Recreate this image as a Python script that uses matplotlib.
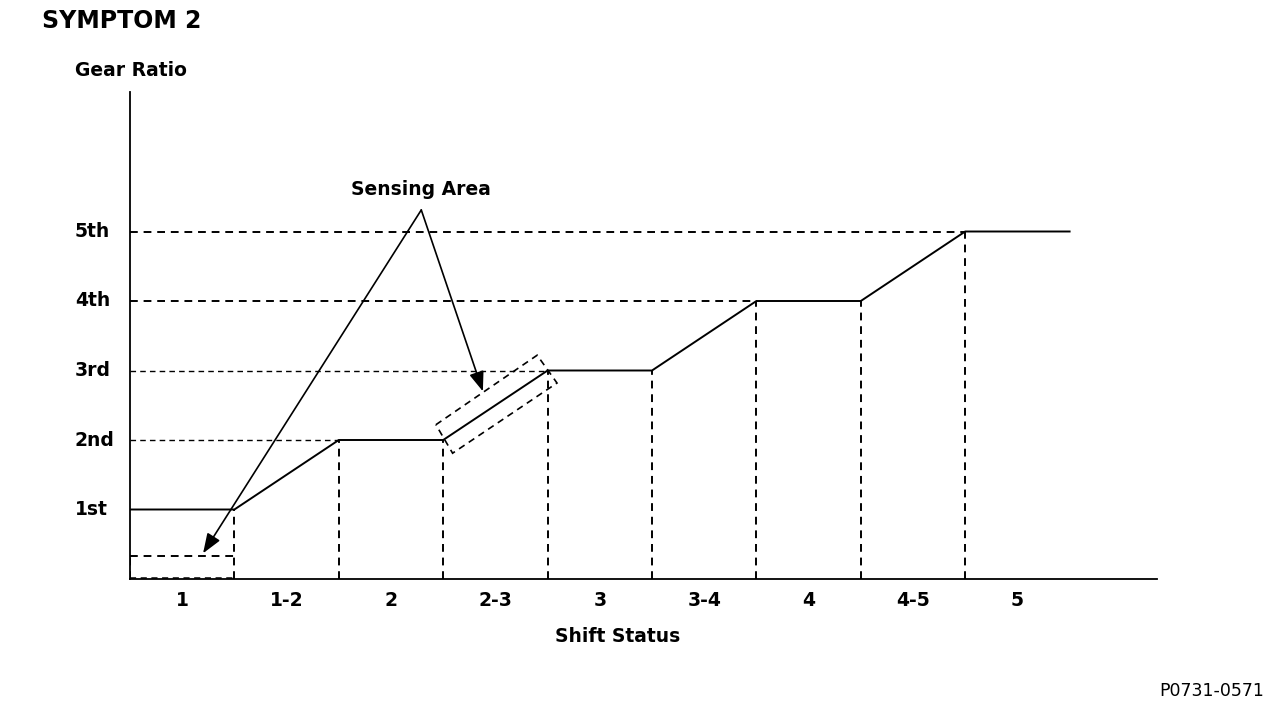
import matplotlib
matplotlib.use("Agg")
import matplotlib.pyplot as plt
from matplotlib.patches import Polygon

plt.rcParams['font.family'] = ['DejaVu Sans']

# --- data ---
shift_labels = ["1", "1-2", "2", "2-3", "3", "3-4", "4", "4-5", "5"]
gear_labels = ["1st", "2nd", "3rd", "4th", "5th"]
gear_levels = [1, 2, 3, 4, 5]
curve_x = [0, 1, 2, 3, 4, 5, 6, 7, 8, 9]
curve_y = [1, 1, 2, 2, 3, 3, 4, 4, 5, 5]
# where each gear level is first reached (end of dashed guide)
level_start_x = [0, 2, 4, 6, 8]
# sensing areas
box1_top = 0.33
box2 = [(2.93, 2.22), (3.90, 3.22), (4.09, 2.82), (3.09, 1.81)]
apex = (2.79, 5.31)
arrow_tips = [(0.70, 0.37), (3.38, 2.70)]

fig = plt.figure(figsize=(12.8, 7.08), dpi=100)
ax = fig.add_axes([130/1280, 1 - 579/708, 1027/1280, 487/708])
ax.set_xlim(0, 1027/104.4)
ax.set_ylim(0, 487/69.5)

for s in ["top", "right"]:
    ax.spines[s].set_visible(False)
ax.spines["left"].set_linewidth(1.3)
ax.spines["bottom"].set_linewidth(1.3)

dash = (0, (4, 3))

# main gear ratio curve
ax.plot(curve_x, curve_y, color="black", lw=1.4, solid_joinstyle="miter")

# horizontal dashed guides
for lvl, xs in zip(gear_levels, level_start_x):
    if xs > 0:
        w = 1.4 if lvl >= 4 else 1.0
        ax.plot([0, xs], [lvl, lvl], color="black", lw=w, ls=dash)

# vertical dashed guides
for x, y in zip(curve_x[1:9], curve_y[1:9]):
    ax.plot([x, x], [0, y], color="black", lw=1.4, ls=dash)

# sensing area 1 (rectangle at bottom left)
ax.plot([0, 1], [box1_top, box1_top], color="black", lw=1.4, ls=dash)
ax.plot([0, 0], [0, box1_top], color="black", lw=1.4, ls=dash)
ax.plot([0, 1], [0.01, 0.01], color="black", lw=1.1, ls=dash, clip_on=False)

# sensing area 2 (rotated box around 2-3)
ax.add_patch(Polygon(box2, closed=True, fill=False, ec="black", lw=1.2, ls=dash))

# arrows
for tip in arrow_tips:
    ax.annotate("", xy=tip, xytext=apex,
                arrowprops=dict(arrowstyle="-|>,head_length=1.2,head_width=0.45",
                                color="black", lw=1.2, shrinkA=0, shrinkB=0))
ax.text(apex[0], apex[1] + 0.3, "Sensing Area", ha="center", va="center",
        fontsize=13.5, fontweight="bold")

# ticks
ax.set_xticks([i + 0.5 for i in range(len(shift_labels))])
ax.set_xticklabels(shift_labels, fontsize=13.5, fontweight="bold")
ax.set_yticks(gear_levels)
ax.set_yticklabels([])
ax.tick_params(length=0)
ax.tick_params(axis="x", pad=9)
for lvl, lab in zip(gear_levels, gear_labels):
    ax.text(-55/1027, lvl, lab, transform=ax.get_yaxis_transform(),
            ha="left", va="center", fontsize=13.5, fontweight="bold")

fig.text(618/1280, 1 - 636/708, "Shift Status", fontsize=13.5, fontweight="bold",
         ha="center", va="center")
fig.text(75/1280, 1 - 71/708, "Gear Ratio", fontsize=13.5, fontweight="bold", va="center")
fig.text(42/1280, 1 - 21/708, "SYMPTOM 2", fontsize=17, fontweight="bold", va="center")
fig.text(1264/1280, 1 - 691/708, "P0731-0571", fontsize=12.5, ha="right", va="center")

fig.savefig("out.png", dpi=100)
